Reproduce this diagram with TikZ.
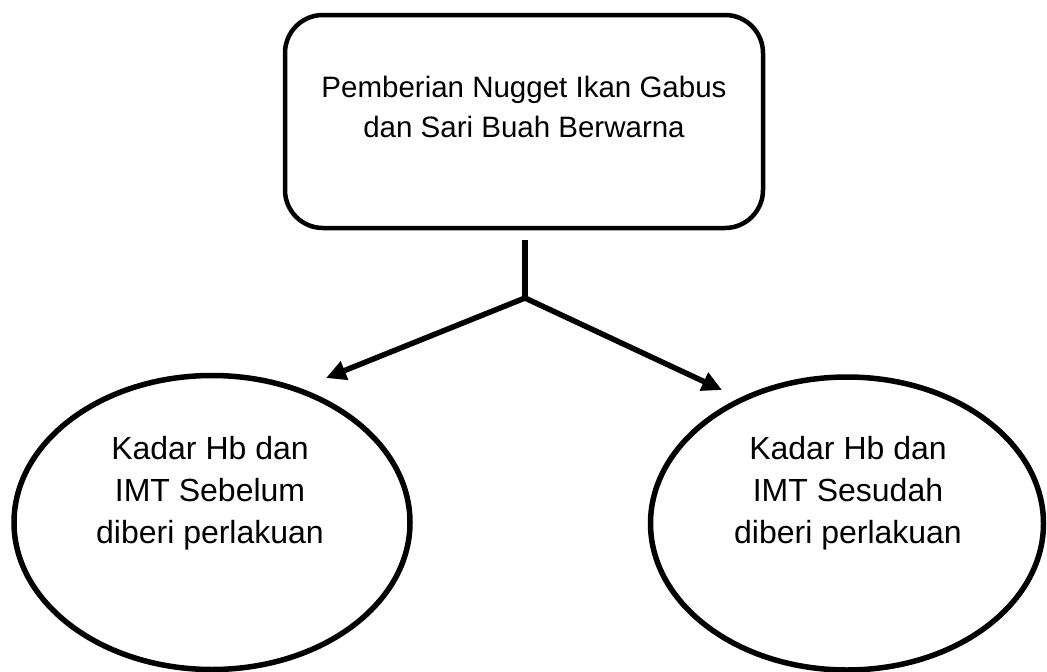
\documentclass[tikz,border=0pt]{standalone}
\usepackage{fontspec}
\setmainfont{Liberation Sans}
\usetikzlibrary{shapes.geometric,arrows.meta}
\tikzset{
  box/.style={draw=black, line width=4.5pt, rounded corners=38pt, minimum width=478pt, minimum height=213pt, inner sep=0pt},
  oval/.style={draw=black, ellipse, line width=5.5pt, inner sep=0pt},
  toptext/.style={align=center, font=\fontsize{29.5}{40}\selectfont, inner sep=0pt},
  ovaltext/.style={align=center, font=\fontsize{32}{42}\selectfont, inner sep=0pt},
  link/.style={line width=5.5pt},
  arr/.style={line width=5.5pt, -{Triangle[length=20pt,width=19pt]}}
}
\begin{document}
\begin{tikzpicture}[x=1pt,y=-1pt]
\useasboundingbox (0,0) rectangle (1047,672);
\node[box] (top) at (524,121.5) {};
\node[toptext, anchor=base] (toptxt) at (524,137) {Pemberian Nugget Ikan Gabus\\dan Sari Buah Berwarna};
\node[oval, minimum width=396pt, minimum height=294pt] (left) at (212,522.5) {};
\node[oval, minimum width=393pt, minimum height=293pt] (right) at (847,523.5) {};
\node[ovaltext, anchor=base] (lefttxt) at (210,543) {Kadar Hb dan\\IMT Sebelum\\diberi perlakuan};
\node[ovaltext, anchor=base] (righttxt) at (848,543) {Kadar Hb dan\\IMT Sesudah\\diberi perlakuan};
\coordinate (j) at (525,298);
\coordinate (lt) at (326,378);
\coordinate (rt) at (722,390);
\draw[link] ([yshift=-10pt]top.south -| j) -- (j);
\draw[arr] (j) -- (lt);
\draw[arr] (j) -- (rt);
\end{tikzpicture}
\end{document}
